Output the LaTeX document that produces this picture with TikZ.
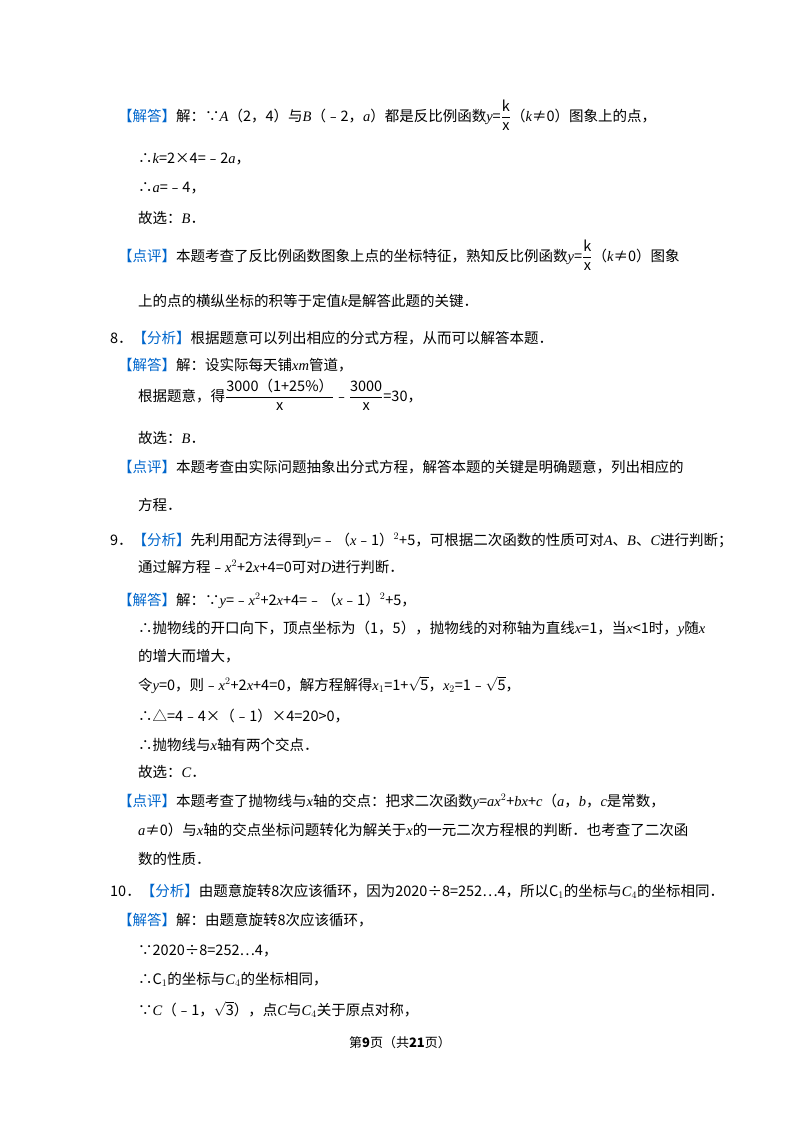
\documentclass[tikz,border=0pt]{standalone}
\usepackage{fontspec}
\setmainfont{Noto Sans CJK SC}
\newfontfamily\vf{Liberation Serif}
\definecolor{tagblue}{RGB}{0,102,204}
\newcommand\hl[1]{\textcolor{tagblue}{【#1】}}
\newcommand\va[1]{{\vf\itshape #1}}
\newcommand\fr[2]{$\displaystyle\frac{\mbox{#1}}{\mbox{#2}}$}
\newcommand\sq[1]{$\sqrt{\mbox{#1}}$}
\begin{document}
\begin{tikzpicture}[x=1pt,y=-1pt,ln/.style={anchor=base west,inner sep=0,font=\fontsize{14.5}{17}\selectfont}]
\useasboundingbox (0,0) rectangle (800,1132);
\node[ln] (l1) at (118,121) {\hl{解答}解：∵\va{A}（2，4）与\va{B}（﹣2，\va{a}）都是反比例函数\va{y}=\fr{k}{x}（\va{k}≠0）图象上的点，};
\node[ln] (l2) at (138,163) {∴\va{k}=2×4=﹣2\va{a}，};
\node[ln] (l3) at (138,192) {∴\va{a}=﹣4，};
\node[ln] (l4) at (138,223) {故选：\va{B}．};
\node[ln] (l5) at (118,261) {\hl{点评}本题考查了反比例函数图象上点的坐标特征，熟知反比例函数\va{y}=\fr{k}{x}（\va{k}≠0）图象};
\node[ln] (l6) at (138,306) {上的点的横纵坐标的积等于定值\va{k}是解答此题的关键．};
\node[ln] (l7) at (110,343) {8．\hl{分析}根据题意可以列出相应的分式方程，从而可以解答本题．};
\node[ln] (l8) at (118,370) {\hl{解答}解：设实际每天铺\va{xm}管道，};
\node[ln] (l9) at (138,401) {根据题意，得\fr{3000（1+25\%）}{x}﹣\fr{3000}{x}=30，};
\node[ln] (l10) at (138,443) {故选：\va{B}．};
\node[ln] (l11) at (118,472) {\hl{点评}本题考查由实际问题抽象出分式方程，解答本题的关键是明确题意，列出相应的};
\node[ln] (l12) at (138,510) {方程．};
\node[ln] (l13) at (110,545) {9．\hl{分析}先利用配方法得到\va{y}=﹣（\va{x}﹣1）$^2$+5，可根据二次函数的性质可对\va{A}、\va{B}、\va{C}进行判断；};
\node[ln] (l14) at (138,572) {通过解方程﹣\va{x}$^2$+2\va{x}+4=0可对\va{D}进行判断．};
\node[ln] (l15) at (118,605) {\hl{解答}解：∵\va{y}=﹣\va{x}$^2$+2\va{x}+4=﹣（\va{x}﹣1）$^2$+5，};
\node[ln] (l16) at (138,633) {∴抛物线的开口向下，顶点坐标为（1，5），抛物线的对称轴为直线\va{x}=1，当\va{x}<1时，\va{y}随\va{x}};
\node[ln] (l17) at (138,661) {的增大而增大，};
\node[ln] (l18) at (138,690) {令\va{y}=0，则﹣\va{x}$^2$+2\va{x}+4=0，解方程解得\va{x}$_1$=1+\sq{5}，\va{x}$_2$=1﹣\sq{5}，};
\node[ln] (l19) at (138,721) {∴△=4﹣4×（﹣1）×4=20>0，};
\node[ln] (l20) at (138,750) {∴抛物线与\va{x}轴有两个交点．};
\node[ln] (l21) at (138,777) {故选：\va{C}．};
\node[ln] (l22) at (118,806) {\hl{点评}本题考查了抛物线与\va{x}轴的交点：把求二次函数\va{y}=\va{ax}$^2$+\va{bx}+\va{c}（\va{a}，\va{b}，\va{c}是常数，};
\node[ln] (l23) at (138,835) {\va{a}≠0）与\va{x}轴的交点坐标问题转化为解关于\va{x}的一元二次方程根的判断．也考查了二次函};
\node[ln] (l24) at (138,864) {数的性质．};
\node[ln] (l25) at (110,896) {10．\hl{分析}由题意旋转8次应该循环，因为2020÷8=252…4，所以C$_1$的坐标与\va{C}$_4$的坐标相同．};
\node[ln] (l26) at (118,925) {\hl{解答}解：由题意旋转8次应该循环，};
\node[ln] (l27) at (138,955) {∵2020÷8=252…4，};
\node[ln] (l28) at (138,984) {∴C$_1$的坐标与\va{C}$_4$的坐标相同，};
\node[ln] (l29) at (138,1015) {∵\va{C}（﹣1，\sq{3}），点\va{C}与\va{C}$_4$关于原点对称，};
\node[anchor=base,inner sep=0,font=\fontsize{13}{15}\selectfont] (ft) at (400,1047) {第\textbf{9}页（共\textbf{21}页）};
\end{tikzpicture}
\end{document}
